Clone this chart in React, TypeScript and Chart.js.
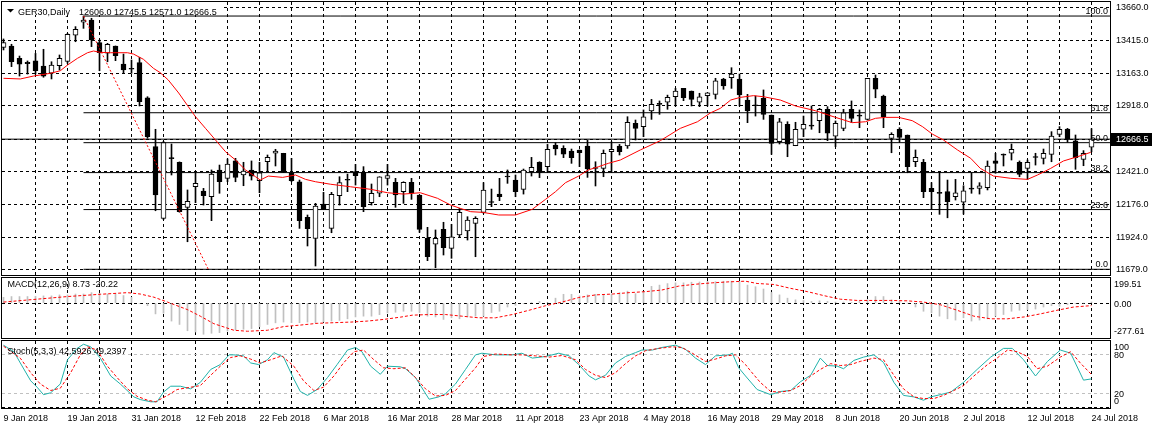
import React, { useEffect, useRef } from 'react';
import { Chart, registerables } from 'chart.js';

Chart.register(...registerables);

const FONT_FAMILY = '"Liberation Sans", Arial, sans-serif';
const FONT_SIZE = 9;

// ---------------- data ----------------
const dateLabels = ['9 Jan 2018', '19 Jan 2018', '31 Jan 2018', '12 Feb 2018', '22 Feb 2018', '6 Mar 2018', '16 Mar 2018', '28 Mar 2018', '11 Apr 2018', '23 Apr 2018', '4 May 2018', '16 May 2018', '29 May 2018', '8 Jun 2018', '20 Jun 2018', '2 Jul 2018', '12 Jul 2018', '24 Jul 2018'];
const dateLabelBars = [0, 8, 16, 24, 32, 40, 48, 56, 64, 72, 80, 88, 96, 104, 112, 120, 128, 136];

const opens = [13360, 13370, 13277, 13247, 13257, 13219, 13164, 13221, 13254, 13451,
  13549, 13566, 13395, 13315, 13370, 13234, 13196, 13244, 12979, 12610,
  12069, 12522, 12492, 12152, 12307, 12275, 12233, 12434, 12371, 12502,
  12396, 12434, 12353, 12496, 12560, 12559, 12413, 12345, 12076, 11918,
  12177, 11993, 12240, 12360, 12421, 12416, 12187, 12258, 12371, 12341,
  12270, 12341, 12245, 11918, 11873, 11986, 11842, 11943, 11973, 12031,
  12114, 12192, 12252, 12388, 12358, 12288, 12421, 12492, 12459, 12622,
  12597, 12577, 12585, 12615, 12447, 12446, 12572, 12615, 12615, 12786,
  12761, 12879, 12931, 12945, 12987, 13050, 13030, 12945, 12995, 13005,
  13121, 13131, 13121, 12962, 12921, 12975, 12849, 12647, 12779, 12617,
  12741, 12767, 12806, 12892, 12690, 12748, 12892, 12842, 12816, 13126,
  12992, 12673, 12741, 12698, 12496, 12492, 12295, 12259, 12270, 12232,
  12190, 12291, 12295, 12300, 12502, 12548, 12560, 12492, 12446, 12530,
  12522, 12552, 12703, 12743, 12653, 12514, 12606];
const highs = [13423, 13383, 13294, 13257, 13314, 13345, 13251, 13302, 13465, 13516,
  13596, 13579, 13415, 13390, 13370, 13309, 13264, 13284, 12987, 12741,
  12650, 12630, 12495, 12283, 12409, 12295, 12434, 12471, 12517, 12522,
  12492, 12502, 12492, 12547, 12590, 12560, 12522, 12358, 12094, 12182,
  12265, 12265, 12383, 12403, 12476, 12459, 12328, 12383, 12476, 12371,
  12345, 12371, 12245, 12001, 11981, 12039, 12024, 12144, 12081, 12081,
  12338, 12290, 12371, 12434, 12396, 12441, 12529, 12496, 12627, 12640,
  12617, 12592, 12585, 12660, 12496, 12585, 12647, 12627, 12836, 12811,
  12887, 12967, 12955, 12999, 13050, 13050, 13030, 13013, 13017, 13126,
  13126, 13206, 13158, 13005, 12992, 13038, 12849, 12824, 12798, 12794,
  12841, 12917, 12899, 12912, 12804, 12892, 12955, 12887, 13126, 13151,
  12999, 12715, 12753, 12698, 12585, 12514, 12338, 12421, 12358, 12363,
  12315, 12413, 12338, 12502, 12560, 12555, 12630, 12502, 12509, 12560,
  12592, 12723, 12761, 12748, 12698, 12580, 12745.5];
const lows = [13340, 13214, 13143, 13158, 13158, 13134, 13121, 13189, 13239, 13402,
  13503, 13365, 13183, 13251, 13259, 13164, 13164, 12917, 12673, 12126,
  12060, 12396, 12115, 11892, 12187, 12169, 12051, 12258, 12345, 12345,
  12315, 12358, 12262, 12421, 12464, 12414, 12345, 11993, 11860, 11709,
  12137, 11960, 12169, 12270, 12320, 12119, 12169, 12232, 12320, 12152,
  12182, 12212, 11963, 11749, 11696, 11792, 11767, 11925, 11905, 11779,
  12107, 12157, 12202, 12333, 12232, 12252, 12388, 12376, 12421, 12547,
  12527, 12484, 12459, 12378, 12313, 12383, 12421, 12547, 12597, 12660,
  12685, 12816, 12854, 12892, 12917, 12957, 12917, 12912, 12917, 12970,
  13043, 13050, 12917, 12791, 12841, 12816, 12552, 12630, 12534, 12617,
  12685, 12741, 12715, 12655, 12610, 12730, 12791, 12753, 12811, 12979,
  12753, 12564, 12647, 12413, 12459, 12225, 12137, 12099, 12073, 12207,
  12101, 12258, 12252, 12283, 12409, 12464, 12509, 12383, 12363, 12471,
  12479, 12496, 12685, 12643, 12439, 12466, 12571];
const closes = [13395, 13251, 13232, 13237, 13183, 13143, 13226, 13277, 13458, 13496,
  13566, 13415, 13319, 13383, 13297, 13189, 13194, 12949, 12685, 12245,
  12640, 12520, 12119, 12197, 12333, 12240, 12403, 12345, 12478, 12378,
  12426, 12388, 12413, 12529, 12577, 12416, 12353, 12051, 11990, 12162,
  12137, 12250, 12338, 12356, 12391, 12157, 12258, 12383, 12391, 12245,
  12341, 12258, 11986, 11779, 11918, 11847, 11930, 12114, 12056, 12069,
  12283, 12188, 12232, 12381, 12270, 12434, 12454, 12416, 12590, 12592,
  12554, 12527, 12564, 12441, 12445, 12560, 12590, 12572, 12794, 12748,
  12836, 12929, 12929, 12982, 13030, 12979, 12967, 12987, 13017, 13106,
  13068, 13158, 13000, 12879, 12919, 12854, 12635, 12798, 12628, 12741,
  12779, 12765, 12892, 12711, 12786, 12866, 12824, 12840, 13126, 13043,
  12836, 12703, 12680, 12459, 12529, 12270, 12270, 12257, 12194, 12262,
  12277, 12289, 12315, 12464, 12484, 12546, 12590, 12401, 12492, 12528,
  12560, 12690, 12741, 12665, 12527, 12560, 12666.5];

// moving average (red line), sampled at bar positions
const maX = [0, 2.1, 3.75, 5.9, 7.1, 8, 9.25, 10.5, 11.25, 12.1,
  13.4, 15.5, 16.25, 17.5, 18.75, 19.6, 20.6, 21.9, 23.1, 24,
  25.25, 26.5, 27.75, 29, 30.25, 31.5, 32.1, 33.1, 34.9, 36.5,
  37.75, 39, 40.9, 43.4, 45.9, 48, 50, 52.1, 54.25, 55.9,
  57.1, 58.4, 59.9, 61.9, 64, 66.1, 67.75, 69, 70.25, 71.9,
  73.1, 74.4, 75.6, 77.1, 79.6, 82.1, 84.6, 86.75, 88.4, 89.6,
  90.9, 92.1, 93.75, 95, 97.1, 99, 101.5, 104, 106.1, 107.75,
  109, 110.25, 111.9, 113.6, 114.9, 116.1, 117.5, 119.25, 120.9, 122.1,
  123.75, 125.9, 128, 129.25, 130.9, 132.5, 134.25, 135.9];
const maY = [13126, 13121, 13143, 13164, 13183, 13226, 13277, 13319, 13332, 13322,
  13319, 13319, 13309, 13269, 13201, 13168, 13113, 13015, 12912, 12836,
  12748, 12660, 12572, 12509, 12434, 12383, 12358, 12388, 12378, 12396,
  12363, 12345, 12326, 12307, 12288, 12262, 12252, 12262, 12220, 12169,
  12144, 12119, 12114, 12094, 12094, 12137, 12212, 12270, 12338, 12388,
  12434, 12459, 12484, 12509, 12585, 12655, 12748, 12798, 12866, 12899,
  12962, 12982, 12995, 12987, 12962, 12917, 12881, 12831, 12791, 12798,
  12824, 12831, 12831, 12806, 12760, 12705, 12660, 12585, 12522, 12446,
  12388, 12371, 12363, 12396, 12446, 12502, 12534, 12567];

// Fibonacci retracement object
const fibLabels = ['100.0', '61.8', '50.0', '38.2', '23.6', '0.0'];
const fibPrices = [13596, 12866, 12640, 12414, 12135, 11684];
const fibStartBar = 10;
const fibTrendX = [10, 25.6];
const fibTrendY = [13596, 11684];

const priceTicks = [11679, 11924, 12176, 12421, 12666.5, 12918, 13163, 13415, 13660];
const lastPrice = 12666.5;
const headerSymbol = 'GER30,Daily';
const headerOHLC = '12606.0 12745.5 12571.0 12666.5';

// MACD
const macdTitle = 'MACD(12,26,9) 8.73 -20.22';
const macdHist = [46, 52, 52, 52, 54, 57, 57, 65, 65, 72,
  72, 83, 78, 72, 72, 60, 46, -5, -21, -86,
  -80, -143, -170, -220, -230, -248, -240, -235, -222, -214,
  -208, -203, -188, -170, -157, -151, -156, -156, -151, -156,
  -149, -143, -138, -125, -110, -104, -104, -92, -78, -73,
  -65, -65, -75, -104, -110, -130, -117, -125, -110, -104,
  -104, -75, -65, -31, -18, -5, 3, 13, 5, 39,
  70, 70, 57, 65, 70, 68, 72, 83, 95, 75,
  91, 133, 143, 155, 161, 161, 166, 168, 172, 170,
  174, 174, 172, 143, 130, 112, 85, 65, 39, 26,
  21, 13, 18, 13, 8, 8, 5, 13, 26, 52,
  52, 26, 13, 0, -31, -65, -78, -104, -125, -135,
  -117, -143, -135, -125, -104, -91, -65, -57, -52, -47,
  -31, -21, -26, -13, -5, 0, 8.73];
const macdSigX = [0, 8, 12.1, 15.5, 17.1, 18.8, 20.5, 23, 24.6, 26.3,
  28.8, 30.5, 33, 35, 37.1, 39.2, 41.3, 43.4, 45.5, 47.5,
  49.6, 51.1, 53.2, 55.25, 57.3, 59.4, 61.5, 63.6, 65.7, 67.75,
  69.8, 71.9, 74, 76.1, 78.2, 80.25, 82.3, 84.4, 86.5, 88.6,
  90.7, 92.75, 94.2, 96.3, 98.4, 100.5, 102.5, 104.6, 106.7, 108.8,
  110.9, 113, 115, 117.1, 119.2, 121.3, 123.4, 125.5, 127.6, 129.6,
  131.7, 133.8, 136];
const macdSigY = [8, 52, 70, 83, 72, 47, 8, -52, -104, -164,
  -216, -224, -216, -187, -175, -161, -156, -151, -143, -130,
  -112, -96, -91, -91, -104, -117, -117, -91, -57, -21,
  8, 44, 65, 72, 83, 91, 104, 135, 150, 161,
  169, 174, 156, 148, 117, 91, 60, 31, 21, 21,
  21, 18, 8, -13, -57, -104, -125, -125, -110, -86,
  -57, -31, -20.22];
const macdAxisLabels = [199.51, 0, -277.61];

// Stochastic
const stochTitle = 'Stoch(5,3,3) 42.5926 49.2397';
const stochMainX = [0, 1.3, 2.1, 3.4, 4.2, 5, 5.9, 7.1, 8, 9.2,
  10, 10.9, 12.1, 13.4, 14.6, 16.3, 17.1, 18.4, 19.2, 20,
  20.9, 22.1, 23.4, 24.6, 25.9, 27.1, 28.2, 28.8, 30, 30.9,
  31.9, 33, 33.8, 35, 36.3, 37.1, 38, 39.2, 40.5, 41.7,
  43, 44, 44.8, 45.9, 47.1, 48, 49.6, 50.25, 51.5, 53.2,
  54.4, 55.25, 56.5, 57.75, 59, 59.8, 61.5, 63.6, 64.8, 66.1,
  67.75, 69.4, 70.7, 71.9, 73.2, 74, 75.25, 76.5, 77.75, 79,
  79.8, 81.1, 82.3, 84, 85.25, 86.5, 87.75, 89, 90.7, 91.1,
  91.9, 92.75, 94.2, 95.9, 97.1, 98.4, 99.6, 100.9, 102.1, 103,
  104.2, 105, 106.3, 107.5, 108.8, 110, 111.3, 112.5, 113.8, 115,
  115.9, 117.1, 118.4, 120, 121.7, 123.4, 125, 126.1, 127.5, 129,
  130.5, 132.1, 133.4, 135, 136];
const stochMainY = [93.7, 83.8, 66.7, 39.7, 30, 18.7, 21.6, 34.9, 71.6, 88.8,
  95.1, 91.2, 74.1, 47, 34.9, 15.3, 11.3, 7.9, 7.9, 22.6,
  31.5, 31.5, 27.5, 37.3, 56.9, 64.3, 79, 79, 77.5, 66.7,
  64.3, 71.6, 82.4, 75.6, 42.2, 23.5, 17.6, 26.5, 44.6, 64.3,
  86.3, 90.2, 83.8, 61.8, 49.6, 61.8, 60.9, 58, 44.6, 11.8,
  15.3, 20.1, 34.9, 56.9, 79, 81.5, 79, 79, 81.5, 74.1,
  76.5, 81.5, 77.5, 64.3, 47, 41.2, 48.1, 66.7, 76.5, 82.4,
  86.3, 86.3, 90.2, 93.7, 87.3, 74.1, 64.3, 77.5, 79, 81.5,
  59.4, 47, 26.5, 18.7, 23.5, 25, 38.2, 48.1, 74.1, 62.8,
  62, 58, 70.6, 75.6, 79, 67.6, 37.3, 17.6, 15.3, 10.3,
  15.3, 18.7, 22.6, 37.3, 56.9, 75.6, 88.8, 88.8, 71.6, 47,
  69.1, 86.3, 81.5, 40.7, 42.6];
const stochSigX = [0, 2.1, 3.4, 4.6, 5.9, 7.1, 8.4, 9.6, 10.5, 11.7,
  13, 14.2, 15.5, 16.7, 18, 19, 20.5, 21.7, 23.4, 24.6,
  25.9, 27.1, 28.4, 29.6, 30.9, 32.1, 33.4, 34.8, 36.3, 37.5,
  38.8, 40, 41.3, 42.5, 43.8, 45, 46.3, 47.5, 48.8, 50.25,
  51.5, 52.75, 54, 55.25, 56.5, 57.75, 59, 60, 61.5, 63.6,
  64.8, 66.5, 68.2, 69.8, 71.5, 72.75, 74, 75.25, 76.5, 77.75,
  79, 80.25, 81.9, 83.6, 84.8, 86.1, 87.75, 89, 90.25, 91.5,
  92.75, 93.4, 94.6, 95.9, 97.1, 98.4, 99.6, 100.9, 102.1, 103.4,
  104.6, 105.9, 107.1, 108.8, 110, 111.3, 112.5, 113.8, 115, 116.3,
  117.5, 118.8, 120, 121.3, 123, 124.2, 125.5, 126.7, 128, 129.2,
  130.5, 132.1, 133.4, 134.6, 136];
const stochSigY = [92.2, 74, 52, 34.9, 25, 28.5, 52, 79, 91.2, 86.3,
  61.8, 44.6, 27.5, 16.2, 10.3, 7.9, 17.6, 26.5, 30, 32.4,
  48.1, 61.8, 75, 77.5, 72.6, 66.7, 71.6, 77.5, 61.8, 39.7,
  25, 30, 47, 66.7, 83.8, 86.3, 71.6, 59.4, 58, 59.4,
  44.6, 27.5, 16.7, 17.6, 25, 42.2, 59.4, 76.5, 80.3, 79,
  79, 77.5, 75.6, 78, 71.6, 56.9, 48.1, 44.6, 52, 65.7,
  77.5, 85.3, 88.8, 91.2, 90.2, 81.5, 69.1, 72.6, 77.5, 79,
  64.3, 54.4, 37.3, 23.5, 22.6, 25, 32.4, 47, 56.9, 65.7,
  62.8, 64.3, 69.1, 74.1, 71.6, 48.1, 27.5, 15.3, 12.8, 12.8,
  17.6, 25, 32.4, 47, 64.3, 74.1, 86.3, 83.8, 76.5, 58,
  62, 75.6, 83.8, 66.7, 49.2];
const stochLevels = [20, 80];
const stochAxisLabels = [100, 80, 20, 0];

// ---------------- layout / styling ----------------
const W = 1152;
const X_MIN = -0.1875;
const X_MAX = 138.3125;
const AXIS_W = 42;
const Y_MIN = 11641;
const Y_MAX = 13702;
const GRID_DASH = [3, 3];
const RED = '#ff0000';
const TEAL = '#20b2aa';
const SILVER = '#c0c0c0';
const font = () => `${FONT_SIZE}px ${FONT_FAMILY}`;

const pts = (xs: number[], ys: number[]) => xs.map((x, k) => ({ x, y: ys[k] }));

function xAxis(showLabels: boolean) {
  return {
    type: 'linear',
    min: X_MIN,
    max: X_MAX,
    offset: false,
    afterBuildTicks: (s: any) => {
      const t: any[] = [];
      for (let v = 0; v <= dateLabelBars[dateLabelBars.length - 1]; v += 4) t.push({ value: v });
      s.ticks = t;
    },
    afterFit: (s: any) => {
      s.height = showLabels ? 22 : 0;
      s.paddingLeft = 0;
      s.paddingRight = 0;
    },
    grid: {
      display: true,
      drawTicks: false,
      offset: false,
      lineWidth: 1,
      color: (c: any) => (c.tick && c.tick.value === 0 ? 'rgba(0,0,0,0)' : '#000'),
    },
    border: { display: false, dash: GRID_DASH },
    ticks: {
      display: showLabels,
      autoSkip: false,
      maxRotation: 0,
      minRotation: 0,
      align: 'start',
      padding: 5,
      color: '#000',
      font: { family: FONT_FAMILY, size: FONT_SIZE },
      callback: (v: number) => {
        const k = dateLabelBars.indexOf(v);
        return k >= 0 ? dateLabels[k] : '';
      },
    },
  };
}

const framePlugin = {
  id: 'frame',
  afterDraw(chart: any) {
    const { ctx, chartArea: a } = chart;
    ctx.save();
    ctx.strokeStyle = '#000';
    ctx.lineWidth = 1;
    ctx.strokeRect(a.left - 0.5, a.top - 0.5, a.right - a.left + 1, a.bottom - a.top + 1);
    ctx.restore();
  },
};

function subAxisLabels(chart: any, values: number[], fmt: (v: number) => string) {
  const { ctx, chartArea: a } = chart;
  const s = chart.scales.y;
  ctx.save();
  ctx.font = font();
  ctx.fillStyle = '#000';
  ctx.textAlign = 'left';
  ctx.textBaseline = 'middle';
  values.forEach((v) => {
    let y = s.getPixelForValue(v) + 1;
    y = Math.max(a.top + 6.5, Math.min(a.bottom - 6, y));
    ctx.fillText(fmt(v), a.right + 4, y);
  });
  ctx.restore();
}

function drawTitle(chart: any, text: string, y: number) {
  const { ctx } = chart;
  ctx.save();
  ctx.font = font();
  ctx.fillStyle = '#000';
  ctx.textAlign = 'left';
  ctx.textBaseline = 'alphabetic';
  ctx.fillText(text, 7.5, y);
  ctx.restore();
}

const mainDecor = {
  id: 'mainDecor',
  afterDraw(chart: any) {
    const { ctx, chartArea: a } = chart;
    const y = chart.scales.y;
    ctx.save();
    ctx.font = font();
    // header
    ctx.fillStyle = '#fff';
    ctx.fillRect(a.left, a.top, 219, 13);
    ctx.fillStyle = '#000';
    ctx.beginPath();
    ctx.moveTo(7, 9);
    ctx.lineTo(14, 9);
    ctx.lineTo(10.5, 12.5);
    ctx.closePath();
    ctx.fill();
    ctx.textAlign = 'left';
    ctx.textBaseline = 'alphabetic';
    ctx.fillText(headerSymbol, 18, 14.5);
    ctx.fillText(headerOHLC, 79, 14.5);
    // fibonacci level labels
    ctx.textAlign = 'right';
    fibPrices.forEach((p, k) => ctx.fillText(fibLabels[k], 1108, y.getPixelForValue(p) - 2));
    // current price box
    const py = Math.round(y.getPixelForValue(lastPrice));
    ctx.fillStyle = '#000';
    ctx.fillRect(a.right + 1, py - 6, AXIS_W - 1, 13);
    ctx.fillStyle = '#fff';
    ctx.textAlign = 'left';
    ctx.textBaseline = 'middle';
    ctx.fillText(lastPrice.toFixed(1), a.right + 6, py + 0.5);
    ctx.restore();
  },
};

const macdDecor = {
  id: 'macdDecor',
  afterDraw(chart: any) {
    drawTitle(chart, macdTitle, 10.5);
    subAxisLabels(chart, macdAxisLabels, (v) => v.toFixed(2));
  },
};

const stochDecor = {
  id: 'stochDecor',
  afterDraw(chart: any) {
    drawTitle(chart, stochTitle, 14.5);
    subAxisLabels(chart, stochAxisLabels, (v) => String(v));
  },
};

const baseOptions = (padding: any) => ({
  responsive: false,
  animation: false,
  devicePixelRatio: 1,
  events: [],
  layout: { padding },
  plugins: { legend: { display: false }, tooltip: { enabled: false }, title: { display: false } },
});

function mainConfig(): any {
  const bars = opens.map((_, i) => i);
  return {
    type: 'line',
    data: {
      datasets: [
        ...fibPrices.map((p) => ({
          type: 'line',
          data: [{ x: fibStartBar, y: p }, { x: X_MAX, y: p }],
          borderColor: '#000',
          borderWidth: 1,
          pointRadius: 0,
          order: 9,
        })),
        {
          type: 'line',
          data: [{ x: X_MIN, y: lastPrice }, { x: X_MAX, y: lastPrice }],
          borderColor: '#000',
          borderWidth: 1,
          pointRadius: 0,
          order: 9,
        },
        {
          type: 'bar',
          data: bars.map((i) => ({ x: i, y: [lows[i], highs[i]] })),
          backgroundColor: '#000',
          borderWidth: 0,
          barThickness: 1,
          grouped: false,
          order: 6,
        },
        {
          type: 'bar',
          data: bars.map((i) => ({ x: i, y: [Math.min(opens[i], closes[i]), Math.max(opens[i], closes[i])] })),
          backgroundColor: bars.map((i) => (closes[i] >= opens[i] ? '#fff' : '#000')),
          borderColor: '#000',
          borderWidth: 1,
          borderSkipped: false,
          barThickness: 5,
          minBarLength: 1,
          grouped: false,
          order: 5,
        },
        {
          type: 'line',
          data: pts(maX, maY),
          borderColor: RED,
          borderWidth: 1,
          pointRadius: 0,
          order: 2,
        },
        {
          type: 'line',
          data: pts(fibTrendX, fibTrendY),
          borderColor: RED,
          borderWidth: 1,
          borderDash: [2, 2],
          pointRadius: 0,
          order: 1,
        },
      ],
    },
    options: {
      ...baseOptions({ left: 2, top: 2, right: 0, bottom: 2 }),
      scales: {
        x: xAxis(false),
        y: {
          type: 'linear',
          position: 'right',
          min: Y_MIN,
          max: Y_MAX,
          afterBuildTicks: (s: any) => {
            s.ticks = priceTicks.map((v) => ({ value: v }));
          },
          afterFit: (s: any) => {
            s.width = AXIS_W;
            s.paddingTop = 0;
            s.paddingBottom = 0;
          },
          grid: { drawTicks: false, color: '#000', lineWidth: 1 },
          border: { display: false, dash: GRID_DASH },
          ticks: {
            padding: 6,
            color: '#000',
            font: { family: FONT_FAMILY, size: FONT_SIZE },
            callback: (v: number) => (v === lastPrice ? '' : Number(v).toFixed(1)),
          },
        },
      },
    },
    plugins: [mainDecor, framePlugin],
  };
}

function subYAxis(min: number, max: number, tickVals: number[], colorFor: (v: number) => string) {
  return {
    type: 'linear',
    position: 'right',
    min,
    max,
    afterBuildTicks: (s: any) => {
      s.ticks = tickVals.map((v) => ({ value: v }));
    },
    afterFit: (s: any) => {
      s.width = AXIS_W;
      s.paddingTop = 0;
      s.paddingBottom = 0;
    },
    grid: { drawTicks: false, lineWidth: 1, color: (c: any) => (c.tick ? colorFor(c.tick.value) : 'rgba(0,0,0,0)') },
    border: { display: false, dash: GRID_DASH },
    ticks: { display: false },
  };
}

function macdConfig(): any {
  return {
    type: 'line',
    data: {
      datasets: [
        {
          type: 'bar',
          data: macdHist.map((v, i) => ({ x: i, y: [0, v] })),
          backgroundColor: SILVER,
          borderWidth: 0,
          barThickness: 1,
          grouped: false,
          order: 3,
        },
        {
          type: 'line',
          data: pts(macdSigX, macdSigY),
          borderColor: RED,
          borderWidth: 1,
          borderDash: [3, 2],
          pointRadius: 0,
          order: 1,
        },
      ],
    },
    options: {
      ...baseOptions({ left: 2, top: 2, right: 0, bottom: 2 }),
      scales: {
        x: xAxis(false),
        y: subYAxis(macdAxisLabels[2], macdAxisLabels[0], [0], () => '#000'),
      },
    },
    plugins: [macdDecor, framePlugin],
  };
}

function stochConfig(): any {
  return {
    type: 'line',
    data: {
      datasets: [
        {
          type: 'line',
          data: pts(stochMainX, stochMainY),
          borderColor: TEAL,
          borderWidth: 1,
          pointRadius: 0,
          order: 2,
        },
        {
          type: 'line',
          data: pts(stochSigX, stochSigY),
          borderColor: RED,
          borderWidth: 1,
          borderDash: [3, 2],
          pointRadius: 0,
          order: 1,
        },
      ],
    },
    options: {
      ...baseOptions({ left: 2, top: 2, right: 0, bottom: 0 }),
      scales: {
        x: xAxis(true),
        y: subYAxis(-1.5, 100, [0, ...stochLevels], (v) => (stochLevels.includes(v) ? SILVER : '#000')),
      },
    },
    plugins: [stochDecor, framePlugin],
  };
}

export default function App() {
  const mainRef = useRef<HTMLCanvasElement>(null);
  const macdRef = useRef<HTMLCanvasElement>(null);
  const stochRef = useRef<HTMLCanvasElement>(null);

  useEffect(() => {
    const charts: Chart[] = [];
    if (mainRef.current) charts.push(new Chart(mainRef.current, mainConfig()));
    if (macdRef.current) charts.push(new Chart(macdRef.current, macdConfig()));
    if (stochRef.current) charts.push(new Chart(stochRef.current, stochConfig()));
    return () => charts.forEach((c) => c.destroy());
  }, []);

  return (
    <div style={{ position: 'fixed', left: 0, top: 0, width: W, height: 430, background: '#fff', overflow: 'hidden' }}>
      <canvas ref={mainRef} width={W} height={277} style={{ position: 'absolute', left: 0, top: 0 }} />
      <canvas ref={macdRef} width={W} height={64} style={{ position: 'absolute', left: 0, top: 276 }} />
      <canvas ref={stochRef} width={W} height={91} style={{ position: 'absolute', left: 0, top: 339 }} />
    </div>
  );
}
